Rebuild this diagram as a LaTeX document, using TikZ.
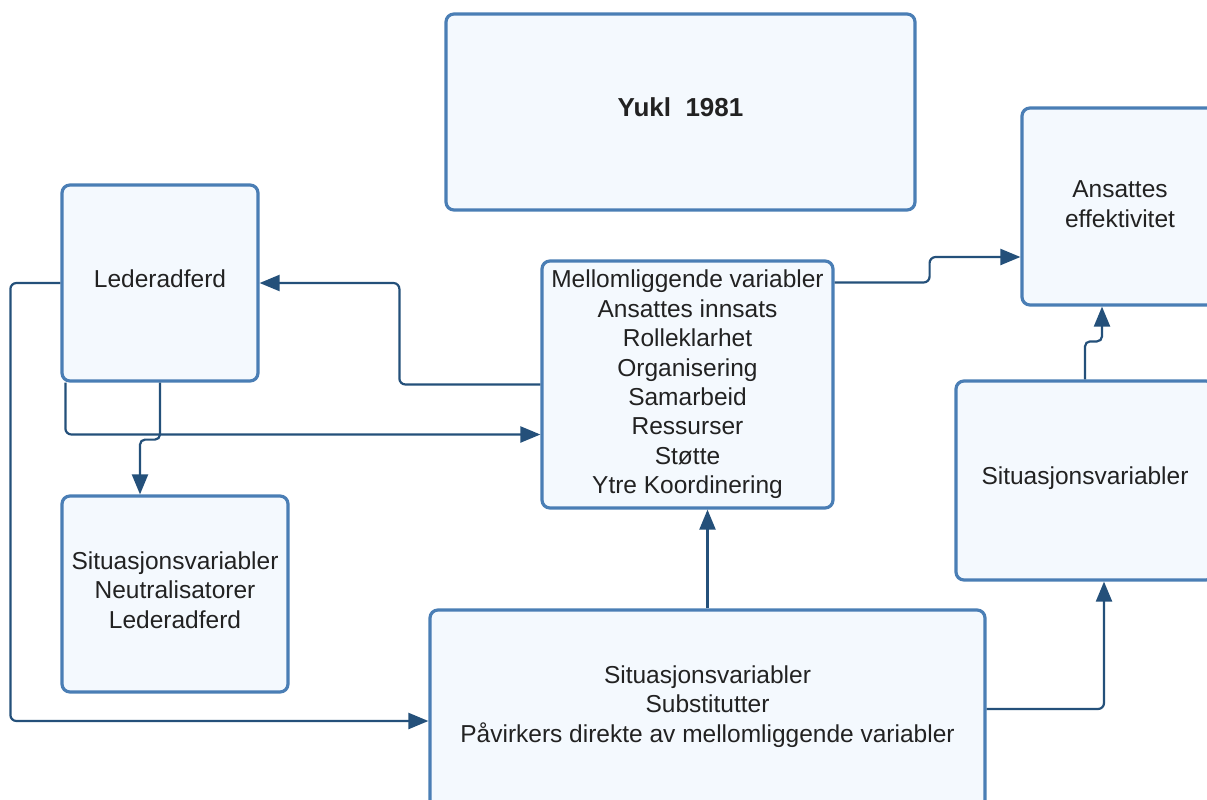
\documentclass[tikz,border=0pt]{standalone}
\usepackage{fontspec}
\setmainfont{Liberation Sans}
\usetikzlibrary{arrows.meta,calc}
\definecolor{boxborder}{HTML}{4A7EB5}
\definecolor{boxfill}{HTML}{F4F9FE}
\definecolor{linecol}{HTML}{24507A}
\definecolor{txtcol}{HTML}{222222}
\newcommand{\upby}[2]{\raisebox{#1}[\height][\depth]{#2}}
\tikzset{
  box/.style={draw=boxborder, fill=boxfill, line width=3.2pt, rounded corners=8pt,
    rectangle, align=center, text=txtcol, inner sep=0pt,
    font=\fontsize{24.5}{29.4}\selectfont},
  conn/.style={draw=linecol, line width=2.2pt, rounded corners=6pt,
    -{Triangle[length=20pt,width=16pt]}},
}
\begin{document}
\begin{tikzpicture}[x=1pt,y=1pt]
\clip (0,0) rectangle (1207,-800);
\fill[white] (0,0) rectangle (1207,-800);

\node[box, minimum width=469, minimum height=196,
  font=\fontsize{26}{30}\selectfont\bfseries] (yukl) at (680.5,-112) {\upby{2pt}{\raisebox{5pt}{Yukl\ \ 1981}}};
\node[box, minimum width=196, minimum height=196] (leder) at (160,-283)
  {\raisebox{8pt}{Lederadferd}};
\node[box, minimum width=291, minimum height=247] (mellom) at (687.5,-384.5)
  {Mellomliggende variabler\\Ansattes innsats\\Rolleklarhet\\Organisering\\Samarbeid\\Ressurser\\Støtte\\Ytre Koordinering};
\node[box, minimum width=196, minimum height=197] (ansattes) at (1120,-206.5)
  {\raisebox{2pt}{\begin{tabular}{@{}c@{}}Ansattes\\effektivitet\end{tabular}}};
\node[box, minimum width=258, minimum height=199] (sitR) at (1085,-480.5)
  {\upby{2pt}{\raisebox{2pt}{Situasjonsvariabler}}};
\node[box, minimum width=226, minimum height=196] (sitL) at (175,-594)
  {\upby{1pt}{\raisebox{3pt}{\begin{tabular}{@{}c@{}}Situasjonsvariabler\\Neutralisatorer\\Lederadferd\end{tabular}}}};
\node[box, minimum width=555, minimum height=200] (bottom) at (707.5,-710)
  {\upby{3pt}{\raisebox{11pt}{\begin{tabular}{@{}c@{}}Situasjonsvariabler\\Substitutter\\Påvirkers direkte av mellomliggende variabler\end{tabular}}}};

% connectors
\draw[conn] (mellom.west) -- ++(-141,0) |- (leder.east);
\draw[conn] ([xshift=5pt]leder.south west) |- ([yshift=-50pt]mellom.west);
\draw[conn, rounded corners=5pt] (leder.south) -- ++(0,-57) -| ([xshift=-35pt]sitL.north);
\draw[conn] (leder.west) -- ++(-50,0) |- ([yshift=-11pt]bottom.west);
\draw[conn] (bottom.north) -- (bottom.north |- mellom.south);
\draw[conn] ([yshift=102pt]mellom.east) -- ++(95,0) |- ([yshift=-50.5pt]ansattes.west);
\draw[conn, rounded corners=5pt] (sitR.north) -- ++(0,38) -| ([xshift=-18pt]ansattes.south);
\draw[conn] ([yshift=1pt]bottom.east) -| ([xshift=19pt]sitR.south);
\end{tikzpicture}
\end{document}
